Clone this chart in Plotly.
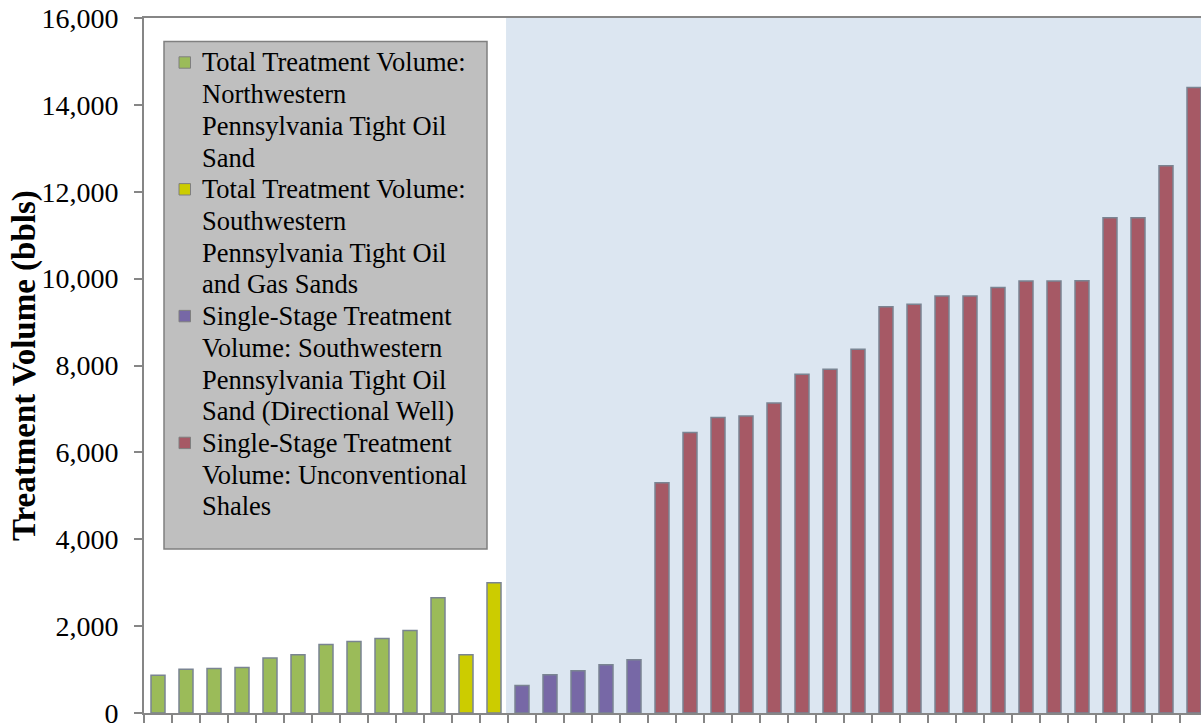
import numpy as np
import plotly.graph_objects as go

# Treatment volumes (bbls), one value per well, sorted within each group
nw_pa_total = [870, 1010, 1025, 1050, 1265, 1340, 1575, 1645, 1715, 1900, 2655]
sw_pa_total = [1340, 3000]
sw_pa_directional_stage = [635, 880, 970, 1110, 1225]
shale_stage = [5300, 6460, 6805, 6840, 7135, 7800, 7915, 8375, 9350, 9410,
               9600, 9600, 9795, 9945, 9945, 9950, 11400, 11400, 12600, 14400]

# Series labels, wrapped as they appear in the key
series_lines = [
    ["Total Treatment Volume:", "Northwestern", "Pennsylvania Tight Oil", "Sand"],
    ["Total Treatment Volume:", "Southwestern", "Pennsylvania Tight Oil", "and Gas Sands"],
    ["Single-Stage Treatment", "Volume: Southwestern", "Pennsylvania Tight Oil",
     "Sand (Directional Well)"],
    ["Single-Stage Treatment", "Volume: Unconventional", "Shales"],
]
series_values = [nw_pa_total, sw_pa_total, sw_pa_directional_stage, shale_stage]
series_colors = ["#9BBB59", "#CCCC00", "#7768A6", "#A65965"]

y_ticks = [0, 2000, 4000, 6000, 8000, 10000, 12000, 14000, 16000]
y_tick_labels = ["0", "2,000", "4,000", "6,000", "8,000", "10,000", "12,000", "14,000", "16,000"]

SERIF = "Liberation Serif, Times New Roman, serif"
AXIS_GREY = "#868686"
OUTLINE = "rgb(122,132,146)"

W, H = 1201, 725
M_L, M_R, M_T, M_B = 144, 0, 18, 12
PW, PH = W - M_L - M_R, H - M_T - M_B


def px(xp):
    """Pixel column -> paper x."""
    return (xp - M_L) / PW


def py(yp):
    """Pixel row -> paper y."""
    return 1 - (yp - M_T) / PH


fig = go.Figure()

start = 0
for lines, vals, color in zip(series_lines, series_values, series_colors):
    xs = np.arange(start, start + len(vals))
    fig.add_trace(go.Bar(
        x=xs, y=vals, name=" ".join(lines), width=0.5,
        marker=dict(color=color, line=dict(color=OUTLINE, width=1.5)),
    ))
    start += len(vals)

n_total = start
# shaded band behind the single-stage treatment wells
shade_start = len(nw_pa_total) + len(sw_pa_total) - 0.57
x_right = n_total - 0.75

shapes = [dict(type="rect", xref="x", yref="y", x0=shade_start, x1=x_right,
               y0=0, y1=16000, fillcolor="#DCE6F1", line=dict(width=0), layer="below")]

# key: grey box, one swatch per series, one text row per wrapped line
shapes.append(dict(type="rect", xref="paper", yref="paper",
                   x0=px(164), x1=px(487), y0=py(549), y1=py(41.5),
                   fillcolor="#BFBFBF", line=dict(color="#808080", width=1.5),
                   layer="above"))
annotations = []
row_pitch = 31.7
row = 0
for lines, color in zip(series_lines, series_colors):
    y0 = 62.5 + row * row_pitch
    shapes.append(dict(type="rect", xref="paper", yref="paper",
                       x0=px(179), x1=px(190.5), y0=py(y0 + 5.7), y1=py(y0 - 5.7),
                       fillcolor=color, line=dict(color="#7F7F7F", width=1),
                       layer="above"))
    for line in lines:
        annotations.append(dict(
            text=line, xref="paper", yref="paper",
            x=px(200), y=py(62.5 + row * row_pitch),
            xanchor="left", yanchor="middle", showarrow=False,
            font=dict(family=SERIF, size=26.5, color="black"),
        ))
        row += 1

annotations.append(dict(
    text="<b>Treatment Volume (bbls)</b>", textangle=-90,
    xref="paper", yref="paper", x=px(25), y=py(366),
    xanchor="center", yanchor="middle", showarrow=False,
    font=dict(family=SERIF, size=33, color="black"),
))

fig.update_layout(
    width=W, height=H,
    margin=dict(l=M_L, r=M_R, t=M_T, b=M_B, autoexpand=False),
    paper_bgcolor="white", plot_bgcolor="white",
    barmode="overlay",
    showlegend=False,
    xaxis=dict(
        range=[-0.5, x_right], showgrid=False, zeroline=False,
        showticklabels=False, tickmode="linear", tick0=-0.5, dtick=1,
        ticks="outside", ticklen=8, tickwidth=1.5, tickcolor=AXIS_GREY,
        showline=True, linecolor=AXIS_GREY, linewidth=2, mirror=True,
        fixedrange=True, automargin=False,
    ),
    yaxis=dict(
        range=[0, 16000], showgrid=False, zeroline=False,
        tickmode="array", tickvals=y_ticks, ticktext=y_tick_labels,
        ticks="outside", ticklen=8, tickwidth=1.5, tickcolor=AXIS_GREY,
        showline=True, linecolor=AXIS_GREY, linewidth=2,
        tickfont=dict(family=SERIF, size=28, color="black"),
        ticklabelstandoff=10, ticklabeloverflow="allow", automargin=False,
    ),
    shapes=shapes,
    annotations=annotations,
)

fig.write_html("out.html")
